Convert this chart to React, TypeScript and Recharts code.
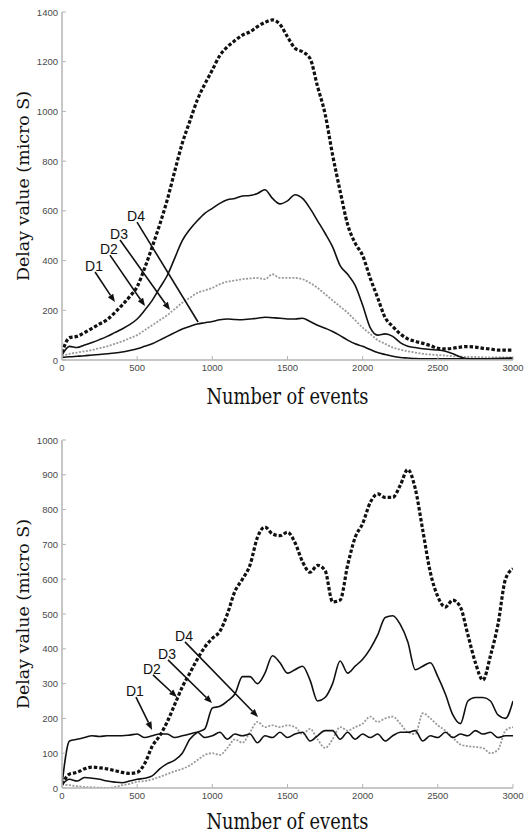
import React from 'react';
import { LineChart, Line, XAxis, YAxis, ReferenceLine } from 'recharts';

// ---------- shared x values ----------
const events: number[] = [
  0, 50, 100, 150, 200, 250, 300, 350, 400, 450, 500, 550, 600, 650, 700, 750, 800, 850, 900, 950,
  1000, 1050, 1100, 1150, 1200, 1250, 1300, 1350, 1400, 1450, 1500, 1550, 1600, 1650, 1700, 1750,
  1800, 1850, 1900, 1950, 2000, 2050, 2100, 2150, 2200, 2250, 2300, 2350, 2400, 2450, 2500, 2550,
  2600, 2650, 2700, 2750, 2800, 2850, 2900, 2950, 3000,
];

const xTicks: number[] = [0, 500, 1000, 1500, 2000, 2500, 3000];
const yTicksTop: number[] = [0, 200, 400, 600, 800, 1000, 1200, 1400];
const yTicksBottom: number[] = [0, 100, 200, 300, 400, 500, 600, 700, 800, 900, 1000];

// ---------- top chart series ----------
const topD1: number[] = [
  30, 90, 95, 110, 127, 145, 162, 190, 221, 255, 295, 370, 455, 545, 644, 760, 872, 960, 1046, 1110,
  1167, 1225, 1260, 1285, 1307, 1320, 1341, 1358, 1368, 1350, 1300, 1254, 1240, 1213, 1100, 990,
  825, 680, 545, 470, 420, 330, 250, 170, 135, 105, 85, 75, 67, 58, 47, 45,
  47, 52, 54, 52, 47, 44, 40, 40, 40,
];
const topD2: number[] = [
  20, 55, 50, 60, 70, 82, 95, 110, 125, 142, 165, 200, 240, 290, 340, 410, 480, 525, 560, 590,
  610, 630, 645, 650, 660, 662, 670, 685, 650, 628, 640, 665, 650, 610, 560, 510,
  455, 380, 345, 300, 220, 130, 100, 105, 95, 70, 55, 50, 45, 42, 40, 35,
  25, 12, 5, 4, 4, 5, 6, 7, 8,
];
const topD3: number[] = [
  15, 25, 30, 35, 40, 48, 55, 65, 75, 87, 100, 120, 140, 160, 180, 205, 230, 250, 270, 280,
  290, 305, 315, 320, 325, 328, 330, 325, 345, 330, 330, 330, 325, 310, 290, 265,
  240, 215, 190, 160, 130, 105, 80, 65, 50, 42, 35, 30, 25, 22, 20, 18,
  15, 14, 12, 12, 11, 10, 10, 10, 10,
];
const topD4: number[] = [
  10, 13, 15, 17, 20, 22, 25, 28, 32, 38, 45, 55, 65, 80, 95, 110, 125, 135, 145, 150,
  155, 162, 165, 163, 162, 165, 168, 172, 170, 168, 165, 165, 168, 155, 140, 128,
  115, 98, 80, 65, 55, 42, 30, 22, 15, 10, 8, 6, 5, 5, 5, 5,
  5, 5, 5, 5, 5, 5, 5, 5, 5,
];

// ---------- bottom chart series ----------
const botD1: number[] = [
  10, 40, 45, 55, 60, 58, 55, 50, 45, 42, 45, 70, 120, 150, 190, 240, 290, 330, 370, 405,
  430, 450, 500, 565, 600, 640, 720, 750, 730, 725, 735, 705, 650, 620, 640, 625,
  535, 540, 640, 720, 760, 820, 845, 835, 835, 870, 915, 860, 740, 620, 550, 520,
  540, 520, 440, 360, 310, 380, 470, 600, 630,
];
const botD2: number[] = [
  10, 25, 20, 30, 28, 25, 20, 17, 15, 20, 25, 28, 35, 55, 70, 80, 100, 140, 160, 170,
  230, 235, 250, 270, 320, 320, 300, 330, 380, 360, 330, 340, 350, 310, 250, 260,
  300, 365, 330, 350, 370, 400, 440, 490, 495, 470, 420, 340, 350, 360, 320, 270,
  210, 185, 250, 260, 260, 250, 210, 200, 250,
];
const botD3: number[] = [
  10, 8, 5, 3, 2, 1, 0, 3, 8, 12, 18, 20, 25, 32, 40, 48, 55, 65, 80, 95,
  100, 95, 115, 140, 130, 160, 190, 175, 180, 175, 180, 175, 155, 170, 140, 115,
  140, 175, 165, 175, 185, 205, 190, 200, 205, 185, 160, 155, 215, 200, 180, 165,
  145, 125, 120, 118, 115, 100, 110, 165, 175,
];
const botD4: number[] = [
  10, 135, 140, 145, 150, 148, 150, 150, 150, 152, 155, 145, 150, 155, 155, 145, 150, 155, 160, 145,
  150, 160, 140, 155, 150, 155, 130, 150, 145, 160, 145, 155, 160, 135, 150, 165,
  165, 140, 160, 140, 155, 145, 155, 135, 150, 160, 160, 165, 135, 150, 145, 160,
  145, 155, 150, 165, 155, 160, 145, 150, 150,
];

// ---------- annotations (data coordinates) ----------
type Ann = { label: string; x1: number; y1: number; x2: number; y2: number; head: boolean };
const topAnnotations: Ann[] = [
  { label: 'D1', x1: 220, y1: 354, x2: 352, y2: 233, head: true },
  { label: 'D2', x1: 319, y1: 422, x2: 552, y2: 217, head: true },
  { label: 'D3', x1: 386, y1: 483, x2: 718, y2: 201, head: true },
  { label: 'D4', x1: 499, y1: 555, x2: 905, y2: 153, head: false },
];
const bottomAnnotations: Ann[] = [
  { label: 'D1', x1: 492, y1: 261, x2: 599, y2: 167, head: true },
  { label: 'D2', x1: 605, y1: 325, x2: 765, y2: 261, head: true },
  { label: 'D3', x1: 705, y1: 368, x2: 998, y2: 244, head: true },
  { label: 'D4', x1: 818, y1: 420, x2: 1304, y2: 204, head: true },
];

const build = (a: number[], b: number[], c: number[], d: number[]) =>
  events.map((x, i) => ({ x, d1: a[i], d2: b[i], d3: c[i], d4: d[i] }));

const topData = build(topD1, topD2, topD3, topD4);
const bottomData = build(botD1, botD2, botD3, botD4);

const FRAME = '#b5b5b5';
const TICKTXT = '#4a4a4a';
const tickFont = { fontFamily: 'Liberation Sans, Arial, sans-serif', fontSize: 9.5 };

const LeftTick = (props: any) => {
  const { x, y, payload } = props;
  return (
    <g>
      <text x={x - 4} y={y} dy={3.5} textAnchor="end" fill={TICKTXT} {...tickFont}>
        {payload.value}
      </text>
      <line x1={x} x2={x + 4} y1={y} y2={y} stroke={FRAME} strokeWidth={1} />
    </g>
  );
};
const BottomTick = (props: any) => {
  const { x, y, payload } = props;
  return (
    <g>
      <text x={x} y={y + 11} textAnchor="middle" fill={TICKTXT} {...tickFont}>
        {payload.value}
      </text>
      <line x1={x} x2={x} y1={y} y2={y - 4} stroke={FRAME} strokeWidth={1} />
    </g>
  );
};
const TopTick = (props: any) => {
  const { x, y } = props;
  return <line x1={x} x2={x} y1={y} y2={y + 4} stroke={FRAME} strokeWidth={1} />;
};
const RightTick = (props: any) => {
  const { x, y } = props;
  return <line x1={x} x2={x - 4} y1={y} y2={y} stroke={FRAME} strokeWidth={1} />;
};

const makeArrowShape = (label: string, head: boolean) => (p: any) => {
  const x1 = Number(p.x1), y1 = Number(p.y1), x2 = Number(p.x2), y2 = Number(p.y2);
  const dx = x2 - x1, dy = y2 - y1;
  const len = Math.sqrt(dx * dx + dy * dy) || 1;
  const ux = dx / len, uy = dy / len;
  const hl = 8, hw = 3.2;
  const bx = x2 - ux * hl, by = y2 - uy * hl;
  const pts = `${x2},${y2} ${bx - uy * hw},${by + ux * hw} ${bx + uy * hw},${by - ux * hw}`;
  return (
    <g>
      <line x1={x1} y1={y1} x2={head ? bx : x2} y2={head ? by : y2} stroke="#111" strokeWidth={1.6} />
      {head && <polygon points={pts} fill="#111" />}
      <text
        x={x1 - 1}
        y={y1 - 1}
        textAnchor="middle"
        fill="#111"
        fontFamily="Liberation Sans, Arial, sans-serif"
        fontSize={14}
      >
        {label}
      </text>
    </g>
  );
};

const XTitle = (props: any) => {
  const { cx, by } = props;
  return (
    <text
      transform={`translate(${cx},${by}) scale(1,1.35)`}
      textAnchor="middle"
      fill="#111"
      fontFamily="DejaVu Serif, serif"
      fontSize={17}
      textLength={162}
      lengthAdjust="spacingAndGlyphs"
    >
      Number of events
    </text>
  );
};

const YTitle = (props: any) => {
  const { cy } = props;
  const cx = 23;
  return (
    <text
      transform={`translate(${cx},${cy}) rotate(-90)`}
      textAnchor="middle"
      dominantBaseline="central"
      fill="#111"
      fontFamily="DejaVu Serif, serif"
      fontSize={17.5}
      textLength={190}
      lengthAdjust="spacingAndGlyphs"
    >
      Delay value (micro S)
    </text>
  );
};

type PanelProps = {
  data: any[];
  yMax: number;
  yTicks: number[];
  anns: Ann[];
  marginTop: number;
  xAxisHeight: number;
  titleGap: number;
};

const Panel = ({ data, yMax, yTicks, anns, marginTop, xAxisHeight, titleGap }: PanelProps) => {
  const plotBottom = 418 - xAxisHeight;
  const plotMidY = (marginTop + plotBottom) / 2;
  return (
    <LineChart width={531} height={418} data={data} margin={{ top: marginTop, right: 18, bottom: 0, left: 0 }}>
      <XAxis
        dataKey="x"
        type="number"
        domain={[0, 3000]}
        ticks={xTicks}
        tick={<BottomTick />}
        tickSize={0}
        tickMargin={0}
        tickLine={false}
        axisLine={{ stroke: FRAME, strokeWidth: 1.5 }}
        height={xAxisHeight}
        allowDataOverflow
        label={<XTitle cx={287.5} by={plotBottom + titleGap} />}
      />
      <XAxis
        xAxisId="top"
        orientation="top"
        dataKey="x"
        type="number"
        domain={[0, 3000]}
        ticks={xTicks}
        tick={<TopTick />}
        tickSize={0}
        tickMargin={0}
        tickLine={false}
        axisLine={{ stroke: FRAME, strokeWidth: 1.5 }}
        height={0}
      />
      <YAxis
        type="number"
        domain={[0, yMax]}
        ticks={yTicks}
        tick={<LeftTick />}
        tickSize={0}
        tickMargin={0}
        tickLine={false}
        axisLine={{ stroke: FRAME, strokeWidth: 1.5 }}
        width={62}
        allowDataOverflow
        label={<YTitle cy={plotMidY} />}
      />
      <YAxis
        yAxisId="right"
        orientation="right"
        type="number"
        domain={[0, yMax]}
        ticks={yTicks}
        tick={<RightTick />}
        tickSize={0}
        tickMargin={0}
        tickLine={false}
        axisLine={{ stroke: FRAME, strokeWidth: 1.5 }}
        width={0}
      />
      <Line type="monotone" dataKey="d3" stroke="#9a9a9a" strokeWidth={1.8} strokeDasharray="2 1.5" dot={false} isAnimationActive={false} />
      <Line type="monotone" dataKey="d4" stroke="#111" strokeWidth={1.6} dot={false} isAnimationActive={false} />
      <Line type="monotone" dataKey="d2" stroke="#111" strokeWidth={1.6} dot={false} isAnimationActive={false} />
      <Line type="monotone" dataKey="d1" stroke="#111" strokeWidth={3.2} strokeDasharray="3.5 2" dot={false} isAnimationActive={false} />
      {anns.map((a) => (
        <ReferenceLine
          key={a.label}
          segment={[{ x: a.x1, y: a.y1 }, { x: a.x2, y: a.y2 }]}
          ifOverflow="visible"
          shape={makeArrowShape(a.label, a.head)}
        />
      ))}
    </LineChart>
  );
};

export default function App() {
  return (
    <div style={{ position: 'absolute', left: 0, top: 0, width: 531, height: 836, background: '#fff' }}>
      <Panel data={topData} yMax={1400} yTicks={yTicksTop} anns={topAnnotations} marginTop={12} xAxisHeight={58} titleGap={44} />
      <Panel data={bottomData} yMax={1000} yTicks={yTicksBottom} anns={bottomAnnotations} marginTop={22} xAxisHeight={48} titleGap={41} />
    </div>
  );
}
